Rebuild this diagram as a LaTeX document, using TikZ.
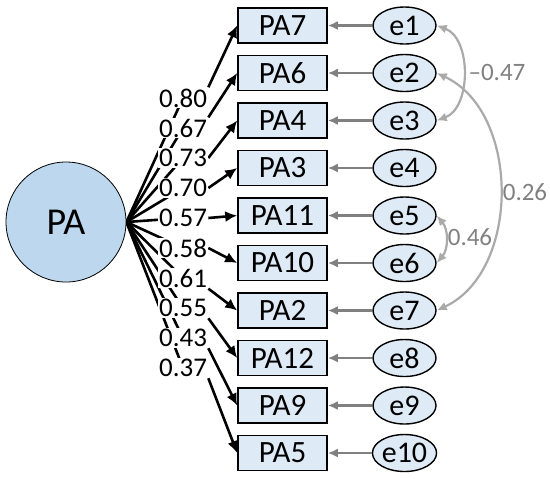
\documentclass[tikz,border=0pt]{standalone}
\usepackage{fontspec}
\setmainfont{Carlito}
\usetikzlibrary{arrows.meta, shapes.geometric}
\pgfdeclarelayer{bg}
\pgfsetlayers{bg,main}
\definecolor{latfill}{RGB}{189,215,238}
\definecolor{obsfill}{RGB}{222,235,247}
\definecolor{errgray}{RGB}{128,128,128}
\definecolor{covgray}{RGB}{170,170,170}

\begin{document}
\begin{tikzpicture}[
    x=0.5pt, y=0.5pt,
    latent/.style={circle, draw, fill=latfill, minimum size=60pt, inner sep=0pt, font=\fontsize{19}{22}\selectfont},
    item/.style={rectangle, draw, line width=0.8pt, fill=obsfill, minimum width=44.5pt, minimum height=17.5pt, inner sep=0pt, font=\fontsize{15.5}{18}\selectfont},
    err/.style={ellipse, draw, line width=0.7pt, fill=obsfill, minimum width=31.5pt, minimum height=18.5pt, inner sep=0pt, font=\fontsize{15}{17}\selectfont},
    coef/.style={fill=white, inner sep=0.5pt, font=\fontsize{13.5}{15}\selectfont},
    covlabel/.style={text=errgray, inner sep=1pt, font=\fontsize{12.5}{14}\selectfont},
    load/.style={line width=1.3pt},
    loadarrow/.style={line width=1.3pt, -{Latex[length=6pt,width=5.5pt]}},
    errarrow/.style={errgray, line width=1.3pt, -{Latex[length=5pt,width=4.5pt]}},
    cov/.style={covgray, line width=1.1pt, {Latex[length=5pt,width=4.5pt]}-{Latex[length=5pt,width=4.5pt]}}
]
\useasboundingbox (0,0) rectangle (550,-478);

% latent factor
\node[latent] (pa) at (66,-222) {PA};

% items
\node[item] (b1) at (282.5,-25.5) {PA7};
\node[item] (b2) at (282.5,-73) {PA6};
\node[item] (b3) at (282.5,-120.5) {PA4};
\node[item] (b4) at (282.5,-168) {PA3};
\node[item] (b5) at (282.5,-215.5) {PA11};
\node[item] (b6) at (282.5,-263) {PA10};
\node[item] (b7) at (282.5,-310.5) {PA2};
\node[item] (b8) at (282.5,-358) {PA12};
\node[item] (b9) at (282.5,-405.5) {PA9};
\node[item] (b10) at (282.5,-453) {PA5};

% error terms
\node[err] (e1) at (404.5,-25.5) {e1};
\node[err] (e2) at (404.5,-73) {e2};
\node[err] (e3) at (404.5,-120.5) {e3};
\node[err] (e4) at (404.5,-168) {e4};
\node[err] (e5) at (404.5,-215.5) {e5};
\node[err] (e6) at (404.5,-263) {e6};
\node[err] (e7) at (404.5,-310.5) {e7};
\node[err] (e8) at (404.5,-358) {e8};
\node[err] (e9) at (404.5,-405.5) {e9};
\node[err] (e10) at (404.5,-453) {e10};

% loadings
\node[coef] (l1) at (183,-98) {0.80};
\node[coef] (l2) at (183,-128) {0.67};
\node[coef] (l3) at (183,-158) {0.73};
\node[coef] (l4) at (183,-188) {0.70};
\node[coef] (l5) at (183,-218) {0.57};
\node[coef] (l6) at (183,-248) {0.58};
\node[coef] (l7) at (183,-278) {0.61};
\node[coef] (l8) at (183,-308) {0.55};
\node[coef] (l9) at (183,-338) {0.43};
\node[coef] (l10) at (183,-368) {0.37};

\begin{pgfonlayer}{bg}
\foreach \i/\a in {1/north east, 2/north east, 3/east, 4/east, 5/east, 6/east, 7/south east, 8/south east, 9/south east, 10/south east} {
  \draw[load] (pa.east) -- (l\i.center);
  \draw[loadarrow] (l\i.\a) -- (b\i.west);
}
\end{pgfonlayer}

\foreach \i in {1,...,10}
  \draw[errarrow] (e\i) -- (b\i);

% correlated errors
\draw[cov] (e1.east) to[bend left=70] (e3.east);
\draw[cov] (e2.east) to[bend left=65] (e7.east);
\draw[cov] (e5.east) to[bend left=40] (e6.east);
\node[covlabel] (c13) at (497,-72) {–0.47};
\node[covlabel] (c27) at (525,-192) {0.26};
\node[covlabel] (c56) at (470,-237) {0.46};
\end{tikzpicture}
\end{document}
